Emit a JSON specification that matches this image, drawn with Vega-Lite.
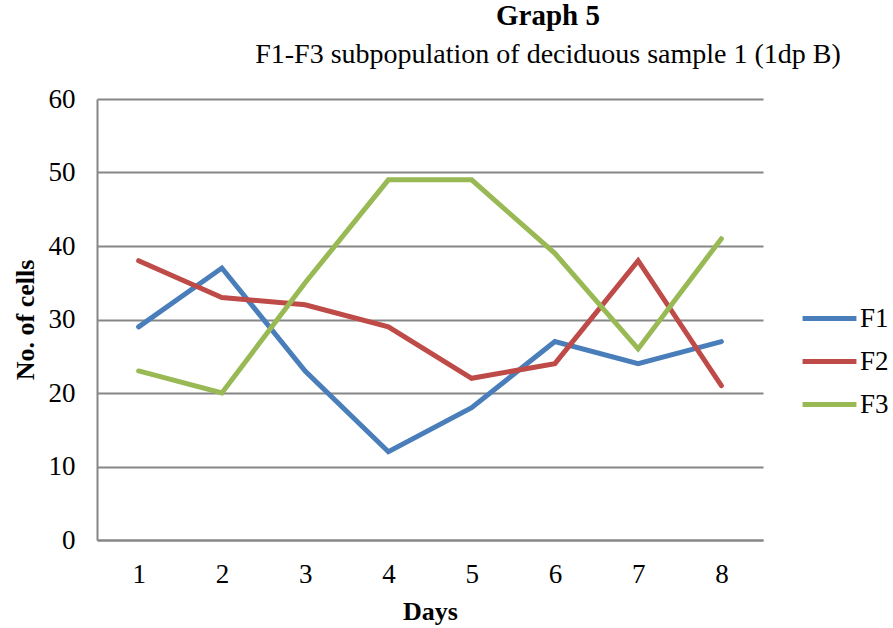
{
  "$schema": "https://vega.github.io/schema/vega-lite/v6.json",
  "width": 666,
  "height": 441,
  "autosize": {"type": "none"},
  "padding": {"left": 97, "top": 99, "right": 130, "bottom": 88},
  "background": "white",
  "config": {
    "font": "Liberation Serif",
    "view": {"stroke": null}
  },
  "title": {
    "text": "Graph 5",
    "subtitle": "F1-F3 subpopulation of deciduous sample 1 (1dp B)",
    "anchor": "middle",
    "dx": 118,
    "offset": 16,
    "font": "Liberation Serif",
    "fontSize": 29,
    "fontWeight": "bold",
    "color": "black",
    "subtitleFont": "Liberation Serif",
    "subtitleFontSize": 28,
    "subtitleColor": "black",
    "subtitlePadding": 10
  },
  "data": {
    "values": [
      {"day": "1", "series": "F1", "value": 29},
      {"day": "2", "series": "F1", "value": 37},
      {"day": "3", "series": "F1", "value": 23},
      {"day": "4", "series": "F1", "value": 12},
      {"day": "5", "series": "F1", "value": 18},
      {"day": "6", "series": "F1", "value": 27},
      {"day": "7", "series": "F1", "value": 24},
      {"day": "8", "series": "F1", "value": 27},
      {"day": "1", "series": "F2", "value": 38},
      {"day": "2", "series": "F2", "value": 33},
      {"day": "3", "series": "F2", "value": 32},
      {"day": "4", "series": "F2", "value": 29},
      {"day": "5", "series": "F2", "value": 22},
      {"day": "6", "series": "F2", "value": 24},
      {"day": "7", "series": "F2", "value": 38},
      {"day": "8", "series": "F2", "value": 21},
      {"day": "1", "series": "F3", "value": 23},
      {"day": "2", "series": "F3", "value": 20},
      {"day": "3", "series": "F3", "value": 35},
      {"day": "4", "series": "F3", "value": 49},
      {"day": "5", "series": "F3", "value": 49},
      {"day": "6", "series": "F3", "value": 39},
      {"day": "7", "series": "F3", "value": 26},
      {"day": "8", "series": "F3", "value": 41}
    ]
  },
  "mark": {"type": "line", "strokeWidth": 5, "strokeCap": "round", "strokeJoin": "miter"},
  "encoding": {
    "x": {
      "field": "day",
      "type": "ordinal",
      "scale": {"type": "point", "padding": 0.5},
      "axis": {
        "title": "Days",
        "titleFont": "Liberation Serif",
        "titleFontSize": 26,
        "titleFontWeight": "bold",
        "titleColor": "black",
        "titlePadding": 11,
        "labelFont": "Liberation Serif",
        "labelFontSize": 27,
        "labelColor": "black",
        "labelAngle": 0,
        "labelPadding": 21,
        "ticks": false,
        "domainColor": "#868686",
        "domainWidth": 2,
        "grid": false
      }
    },
    "y": {
      "field": "value",
      "type": "quantitative",
      "scale": {"domain": [0, 60]},
      "axis": {
        "title": "No. of cells",
        "titleFont": "Liberation Serif",
        "titleFontSize": 26,
        "titleFontWeight": "bold",
        "titleColor": "black",
        "titlePadding": 10,
        "labelFont": "Liberation Serif",
        "labelFontSize": 27,
        "labelColor": "black",
        "labelPadding": 22,
        "values": [0, 10, 20, 30, 40, 50, 60],
        "ticks": false,
        "grid": true,
        "gridColor": "#868686",
        "gridWidth": 2,
        "domainColor": "#868686",
        "domainWidth": 2
      }
    },
    "color": {
      "field": "series",
      "type": "nominal",
      "scale": {"domain": ["F1", "F2", "F3"], "range": ["#4A7EBB", "#BE4B48", "#98B954"]},
      "legend": {
        "title": null,
        "orient": "none",
        "legendX": 703,
        "legendY": 190,
        "symbolType": "stroke",
        "symbolSize": 2900,
        "symbolStrokeWidth": 5,
        "labelFont": "Liberation Serif",
        "labelFontSize": 27,
        "labelColor": "black",
        "labelOffset": 1,
        "rowPadding": -5
      }
    }
  }
}
